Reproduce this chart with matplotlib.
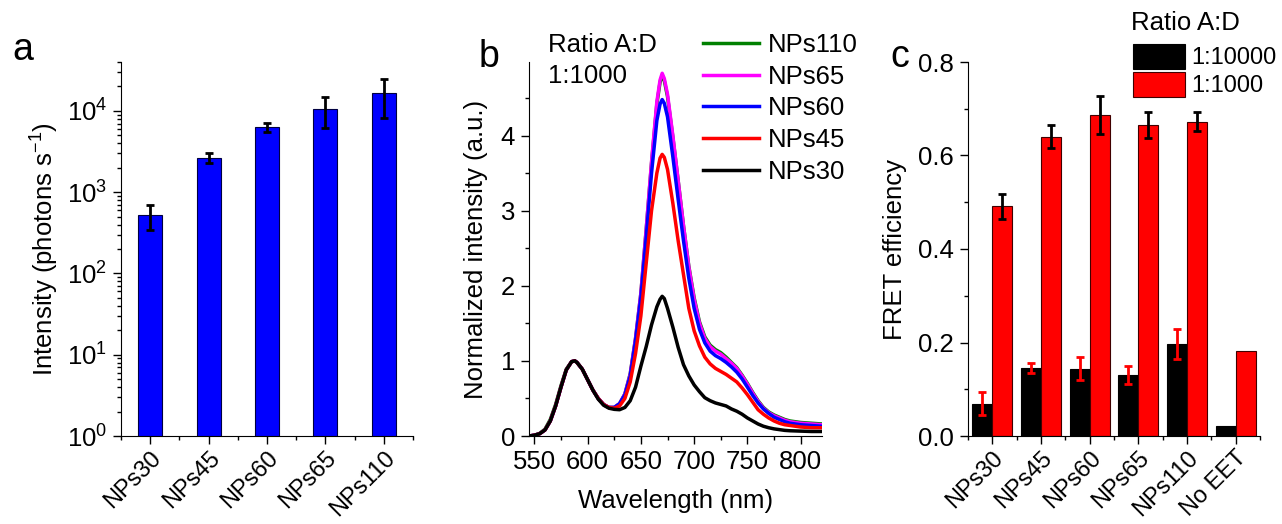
import matplotlib
matplotlib.use('Agg')
import matplotlib.pyplot as plt
from matplotlib.ticker import MultipleLocator, LogLocator
import numpy as np

plt.rcParams['font.family'] = ['Liberation Sans', 'DejaVu Sans']
plt.rcParams['mathtext.default'] = 'regular'
plt.rcParams['font.size'] = 18.5

# ---- datos panel a (intensidad por muestra)
muestras_a = ['NPs30', 'NPs45', 'NPs60', 'NPs65', 'NPs110']
intensidad = [525, 2640, 6330, 10600, 16500]
error_int = [180, 380, 750, 4400, 8300]

# ---- datos panel b (espectros normalizados)
longitud_onda = [545, 550, 555, 560, 565, 570, 575, 580, 585, 588,
                 590, 595, 600, 605, 610, 615, 620, 625, 630, 635,
                 640, 645, 650, 655, 660, 665, 668, 670, 672, 675,
                 680, 685, 690, 695, 700, 705, 710, 715, 720, 725,
                 730, 735, 740, 745, 750, 755, 760, 765, 770, 775,
                 780, 785, 790, 800, 810, 820]
nps110 = [0.0, 0.01, 0.035, 0.09, 0.22, 0.42, 0.67, 0.89, 0.99, 1.0,
          0.98, 0.89, 0.75, 0.61, 0.50, 0.42, 0.38,
          0.38, 0.43, 0.56, 0.83, 1.3, 1.9, 2.75, 3.63, 4.42, 4.71,
          4.80, 4.73, 4.52, 3.98, 3.4, 2.8, 2.26, 1.84, 1.52, 1.32,
          1.21, 1.15, 1.11, 1.05, 0.98, 0.91, 0.81, 0.70, 0.58, 0.47,
          0.38, 0.32, 0.28, 0.25, 0.22, 0.20, 0.18, 0.17, 0.16]
nps65 = [0.0, 0.01, 0.03, 0.08, 0.20, 0.40, 0.65, 0.88, 0.99, 1.0,
         0.98, 0.89, 0.75, 0.61, 0.50, 0.42, 0.38,
         0.38, 0.43, 0.56, 0.82, 1.3, 1.9, 2.75, 3.65, 4.45, 4.74,
         4.83, 4.76, 4.55, 4.0, 3.4, 2.8, 2.25, 1.82, 1.5, 1.3,
         1.19, 1.13, 1.09, 1.03, 0.97, 0.9, 0.8, 0.69, 0.57, 0.46,
         0.37, 0.31, 0.27, 0.24, 0.21, 0.19, 0.17, 0.16, 0.15]
nps60 = [0.0, 0.01, 0.03, 0.08, 0.20, 0.40, 0.65, 0.88, 0.99, 1.0,
         0.98, 0.89, 0.75, 0.61, 0.50, 0.42, 0.38,
         0.38, 0.43, 0.55, 0.8, 1.27, 1.85, 2.65, 3.5, 4.2, 4.42,
         4.48, 4.43, 4.25, 3.72, 3.15, 2.6, 2.1, 1.7, 1.42, 1.24,
         1.13, 1.07, 1.03, 0.98, 0.92, 0.85, 0.76, 0.65, 0.54, 0.44,
         0.36, 0.30, 0.25, 0.22, 0.19, 0.17, 0.15, 0.14, 0.13]
nps45 = [0.0, 0.01, 0.03, 0.08, 0.20, 0.40, 0.65, 0.88, 0.99, 1.0,
         0.98, 0.89, 0.75, 0.61, 0.50, 0.42, 0.38,
         0.37, 0.40, 0.50, 0.72, 1.1, 1.6, 2.3, 3.0, 3.5, 3.7,
         3.75, 3.71, 3.55, 3.1, 2.6, 2.15, 1.7, 1.4, 1.2, 1.05,
         0.96, 0.9, 0.86, 0.82, 0.77, 0.72, 0.64, 0.55, 0.45, 0.35,
         0.29, 0.24, 0.2, 0.17, 0.15, 0.14, 0.12, 0.11, 0.11]
nps30 = [0.0, 0.01, 0.03, 0.08, 0.20, 0.40, 0.65, 0.88, 0.99, 1.0,
         0.98, 0.89, 0.75, 0.61, 0.49, 0.41, 0.37,
         0.355, 0.35, 0.38, 0.47, 0.65, 0.93, 1.19, 1.48, 1.72, 1.82,
         1.86, 1.83, 1.70, 1.45, 1.18, 0.95, 0.80, 0.68, 0.59, 0.51,
         0.47, 0.44, 0.42, 0.40, 0.36, 0.33, 0.29, 0.24, 0.20, 0.16,
         0.13, 0.11, 0.095, 0.085, 0.075, 0.07, 0.065, 0.06, 0.06]
espectros = [('NPs110', nps110, '#008000'),
             ('NPs65', nps65, '#ff00ff'),
             ('NPs60', nps60, '#0000ff'),
             ('NPs45', nps45, '#ff0000'),
             ('NPs30', nps30, 'black')]

# ---- datos panel c (eficiencia FRET)
muestras_c = ['NPs30', 'NPs45', 'NPs60', 'NPs65', 'NPs110', 'No EET']
fret_10000 = [0.069, 0.145, 0.144, 0.130, 0.196, 0.021]
err_10000 = [0.025, 0.011, 0.025, 0.019, 0.032]
fret_1000 = [0.491, 0.640, 0.687, 0.665, 0.672, 0.181]
err_1000 = [0.026, 0.025, 0.040, 0.028, 0.020]

W, H = 1282, 524
fig = plt.figure(figsize=(W / 100, H / 100), dpi=100)


def caja(x0, x1, y0, y1):
    # pixeles -> fraccion de figura
    return [x0 / W, 1 - y1 / H, (x1 - x0) / W, (y1 - y0) / H]


def estilo_ejes(ax):
    ax.spines['top'].set_visible(False)
    ax.spines['right'].set_visible(False)
    ax.tick_params(which='both', direction='out', width=1, pad=4)
    ax.tick_params(which='major', length=6)
    ax.tick_params(which='minor', length=3)


ax_a = fig.add_axes(caja(121, 413, 62, 436))
ax_b = fig.add_axes(caja(529, 822, 62, 436))
ax_c = fig.add_axes(caja(968, 1260, 62, 436))

# panel a
x_a = np.arange(1, len(muestras_a) + 1)
ax_a.bar(x_a, intensidad, width=0.41, color='#0000ff', edgecolor='#000040', linewidth=0.8)
ax_a.errorbar(x_a, intensidad, yerr=error_int, fmt='none', ecolor='black',
              elinewidth=2, capsize=3, capthick=2)
ax_a.set_yscale('log')
ax_a.set_ylim(1, 4e4)
ax_a.set_xlim(0.5, 5.5)
ax_a.yaxis.set_major_locator(LogLocator(base=10, numticks=10))
ax_a.yaxis.set_minor_locator(LogLocator(base=10, subs=np.arange(2, 10), numticks=20))
ax_a.set_xticks(x_a)
ax_a.set_xticklabels(muestras_a, rotation=45, ha='right', rotation_mode='anchor', fontsize=17)
ax_a.xaxis.set_minor_locator(MultipleLocator(0.5))
ax_a.set_ylabel('Intensity (photons s$^{-1}$)')
estilo_ejes(ax_a)
ax_a.tick_params(axis='x', pad=2)

# panel b
for nombre, valores, color in espectros:
    ax_b.plot(longitud_onda, valores, color=color, lw=2.5, label=nombre)
ax_b.set_xlim(545, 820)
ax_b.set_ylim(0, 4.98)
ax_b.xaxis.set_major_locator(MultipleLocator(50))
ax_b.xaxis.set_minor_locator(MultipleLocator(25))
ax_b.yaxis.set_major_locator(MultipleLocator(1))
ax_b.yaxis.set_minor_locator(MultipleLocator(0.5))
ax_b.set_xlabel('Wavelength (nm)', labelpad=11)
ax_b.set_ylabel('Normalized intensity (a.u.)', labelpad=9)
estilo_ejes(ax_b)
ax_b.legend(loc='upper left', bbox_to_anchor=(703 / W, 1 - 33 / H),
            bbox_transform=fig.transFigure, frameon=False, borderpad=0,
            borderaxespad=0, handlelength=2.18, handletextpad=0.35, labelspacing=0.3)
fig.text(548 / W, 1 - 45 / H, 'Ratio A:D', va='center')
fig.text(548 / W, 1 - 76 / H, '1:1000', va='center')

# panel c
x_c = np.arange(1, len(muestras_c) + 1)
barras_n = ax_c.bar(x_c - 0.205, fret_10000, width=0.41, color='black',
                    edgecolor='black', linewidth=0.8)
barras_r = ax_c.bar(x_c + 0.205, fret_1000, width=0.41, color='#ff0000',
                    edgecolor='#400000', linewidth=0.8)
ax_c.errorbar(x_c[:5] - 0.205, fret_10000[:5], yerr=err_10000, fmt='none',
              ecolor='#ff0000', elinewidth=2, capsize=3, capthick=2)
ax_c.errorbar(x_c[:5] + 0.205, fret_1000[:5], yerr=err_1000, fmt='none',
              ecolor='black', elinewidth=2, capsize=3, capthick=2)
ax_c.set_xlim(0.5, 6.5)
ax_c.set_ylim(0, 0.8)
ax_c.yaxis.set_major_locator(MultipleLocator(0.2))
ax_c.yaxis.set_minor_locator(MultipleLocator(0.1))
ax_c.set_xticks(x_c)
ax_c.set_xticklabels(muestras_c, rotation=45, ha='right', rotation_mode='anchor', fontsize=17)
ax_c.xaxis.set_minor_locator(MultipleLocator(0.5))
ax_c.set_ylabel('FRET efficiency', labelpad=8)
estilo_ejes(ax_c)
ax_c.tick_params(axis='x', pad=2)
fig.text(1131 / W, 1 - 23 / H, 'Ratio A:D', va='center')
ax_c.legend([barras_n, barras_r], ['1:10000', '1:1000'], loc='upper left',
            bbox_to_anchor=(1133 / W, 1 - 44 / H), bbox_transform=fig.transFigure,
            frameon=False, borderpad=0, borderaxespad=0, handlelength=2.2,
            handleheight=1.25, handletextpad=0.25, labelspacing=0.1, fontsize=17)

# letras de los paneles
fig.text(12 / W, 1 - 60 / H, 'a', fontsize=27, va='baseline')
fig.text(479 / W, 1 - 67 / H, 'b', fontsize=27, va='baseline')
fig.text(890 / W, 1 - 67 / H, 'c', fontsize=27, va='baseline')

fig.savefig('out.png', dpi=100)
